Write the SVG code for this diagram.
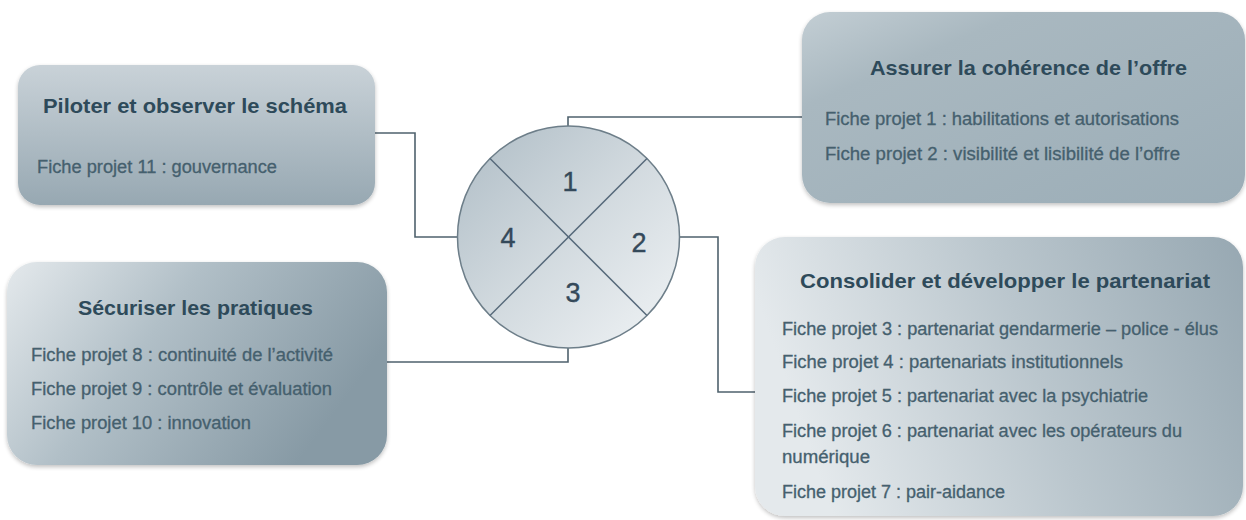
<svg xmlns="http://www.w3.org/2000/svg" width="1246" height="520" viewBox="0 0 1246 520">
<defs>
<linearGradient id="gBox1" x1="0" y1="0" x2="0" y2="1">
<stop offset="0" stop-color="#c9d2d8"/><stop offset="1" stop-color="#97a8b2"/>
</linearGradient>
<linearGradient id="gBox2" x1="0" y1="0" x2="1" y2="1">
<stop offset="0" stop-color="#c3ced4"/><stop offset="0.25" stop-color="#a9b8c0"/><stop offset="1" stop-color="#9badb7"/>
</linearGradient>
<linearGradient id="gBox3" x1="0" y1="0" x2="1" y2="0.4">
<stop offset="0" stop-color="#e4e9ec"/><stop offset="0.45" stop-color="#b1bfc7"/><stop offset="1" stop-color="#879aa5"/>
</linearGradient>
<linearGradient id="gBox4" x1="0" y1="0.2" x2="1" y2="0">
<stop offset="0" stop-color="#e4e9ec"/><stop offset="0.5" stop-color="#bac6cd"/><stop offset="1" stop-color="#97a8b2"/>
</linearGradient>
<linearGradient id="gCircle" x1="0" y1="0" x2="1" y2="1">
<stop offset="0" stop-color="#aebcc5"/><stop offset="0.5" stop-color="#d2dadf"/><stop offset="1" stop-color="#f1f4f6"/>
</linearGradient>
<filter id="soft" x="-5%" y="-5%" width="110%" height="115%">
<feGaussianBlur in="SourceAlpha" stdDeviation="2"/><feOffset dy="2"/>
<feComponentTransfer><feFuncA type="linear" slope="0.25"/></feComponentTransfer>
<feMerge><feMergeNode/><feMergeNode in="SourceGraphic"/></feMerge>
</filter>
</defs>
<style>
.title{font-family:"Liberation Sans",Arial,sans-serif;font-weight:bold;font-size:21px;fill:#2e4a5a}
.body{font-family:"Liberation Sans",Arial,sans-serif;font-size:17.5px;fill:#45606e;stroke:#45606e;stroke-width:0.3}
.num{font-family:"Liberation Sans",Arial,sans-serif;font-size:27px;fill:#34495a;stroke:#34495a;stroke-width:0.4;text-anchor:middle}
.conn{fill:none;stroke:#4f626d;stroke-width:1.6}
.box{filter:url(#soft)}
</style>
<rect width="1246" height="520" fill="#ffffff"/>
<g id="connectors">
<path class="conn" d="M375,133 H415 V237 H457"/>
<path class="conn" d="M568,126 V117 H802"/>
<path class="conn" d="M568,348 V362 H387"/>
<path class="conn" d="M680,237 H718 V392 H755"/>
</g>
<g id="node-piloter">
<rect class="box" x="18" y="65" width="357" height="140" rx="22" fill="url(#gBox1)"/>
<text class="title" x="43" y="113" textLength="304" lengthAdjust="spacingAndGlyphs">Piloter et observer le schéma</text>
<text class="body" x="37" y="173" textLength="240" lengthAdjust="spacingAndGlyphs">Fiche projet 11 : gouvernance</text>
</g>
<g id="node-assurer">
<rect class="box" x="802" y="12" width="443" height="191" rx="28" fill="url(#gBox2)"/>
<text class="title" x="870" y="75" textLength="317" lengthAdjust="spacingAndGlyphs">Assurer la cohérence de l’offre</text>
<text class="body" x="825" y="125" textLength="354" lengthAdjust="spacingAndGlyphs">Fiche projet 1 : habilitations et autorisations</text>
<text class="body" x="825" y="160" textLength="355" lengthAdjust="spacingAndGlyphs">Fiche projet 2 : visibilité et lisibilité de l’offre</text>
</g>
<g id="node-securiser">
<rect class="box" x="7" y="262" width="380" height="203" rx="30" fill="url(#gBox3)"/>
<text class="title" x="78" y="315" textLength="235" lengthAdjust="spacingAndGlyphs">Sécuriser les pratiques</text>
<text class="body" x="31" y="361" textLength="302" lengthAdjust="spacingAndGlyphs">Fiche projet 8 : continuité de l’activité</text>
<text class="body" x="31" y="395" textLength="301" lengthAdjust="spacingAndGlyphs">Fiche projet 9 : contrôle et évaluation</text>
<text class="body" x="31" y="429" textLength="220" lengthAdjust="spacingAndGlyphs">Fiche projet 10 : innovation</text>
</g>
<g id="node-consolider">
<rect class="box" x="755" y="237" width="488" height="279" rx="30" fill="url(#gBox4)"/>
<text class="title" x="800" y="288" textLength="410" lengthAdjust="spacingAndGlyphs">Consolider et développer le partenariat</text>
<text class="body" x="782" y="335" textLength="436" lengthAdjust="spacingAndGlyphs">Fiche projet 3 : partenariat gendarmerie – police - élus</text>
<text class="body" x="782" y="368" textLength="341" lengthAdjust="spacingAndGlyphs">Fiche projet 4 : partenariats institutionnels</text>
<text class="body" x="782" y="402" textLength="366" lengthAdjust="spacingAndGlyphs">Fiche projet 5 : partenariat avec la psychiatrie</text>
<text class="body" x="782" y="437" textLength="400" lengthAdjust="spacingAndGlyphs">Fiche projet 6 : partenariat avec les opérateurs du</text>
<text class="body" x="782" y="463" textLength="88" lengthAdjust="spacingAndGlyphs">numérique</text>
<text class="body" x="782" y="498" textLength="223" lengthAdjust="spacingAndGlyphs">Fiche projet 7 : pair-aidance</text>
</g>
<g id="node-circle">
<circle cx="568.5" cy="237" r="111" fill="url(#gCircle)" stroke="#6d7e89" stroke-width="1.5"/>
<line x1="490" y1="158.5" x2="647" y2="315.5" stroke="#56697a" stroke-width="1.5"/>
<line x1="647" y1="158.5" x2="490" y2="315.5" stroke="#56697a" stroke-width="1.5"/>
<text class="num" x="570" y="191">1</text>
<text class="num" x="639" y="252">2</text>
<text class="num" x="573" y="302">3</text>
<text class="num" x="508" y="247">4</text>
</g>
</svg>
